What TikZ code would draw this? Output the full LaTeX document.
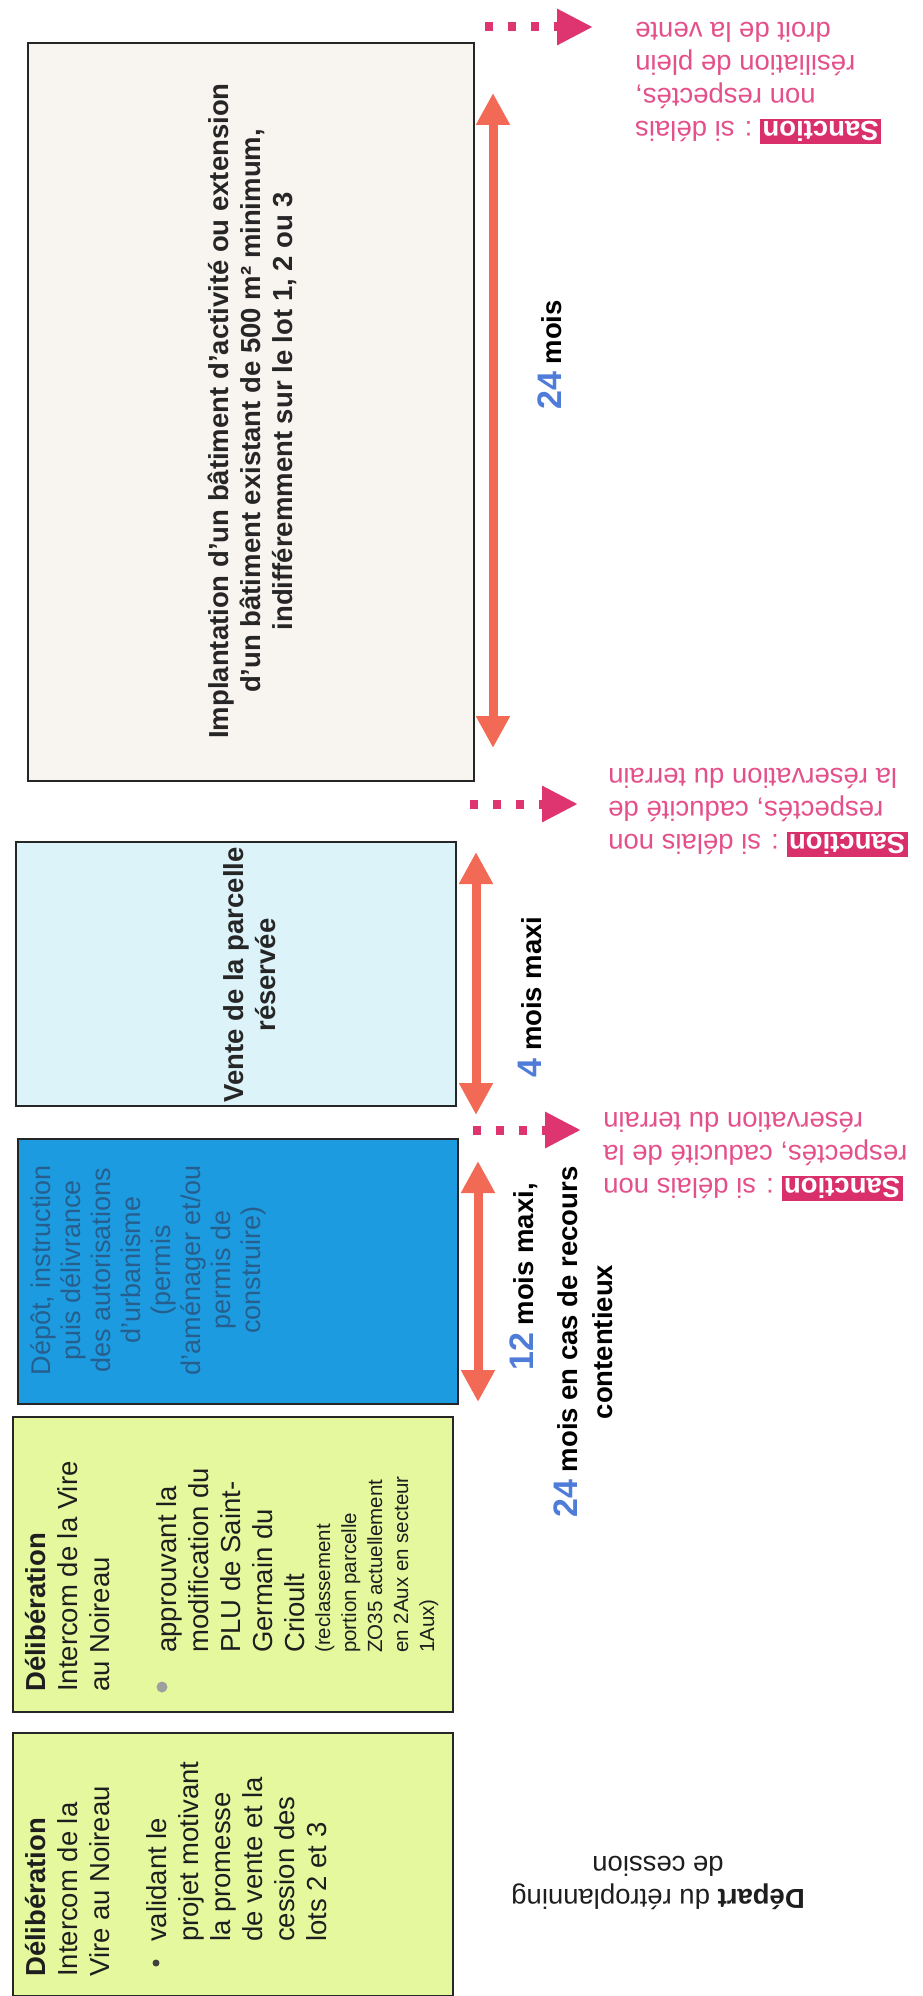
\documentclass[tikz,border=0pt]{standalone}
\usepackage{fontspec}
\setmainfont{Liberation Sans}
\usetikzlibrary{arrows.meta}
\definecolor{beigefill}{HTML}{F8F4F0}
\definecolor{lbluefill}{HTML}{DCF3FA}
\definecolor{bluefill}{HTML}{1C9BE0}
\definecolor{bluetext}{HTML}{265F8E}
\definecolor{greenfill}{HTML}{E6F89E}
\definecolor{durcol}{HTML}{F26A56}
\definecolor{sanccol}{HTML}{E4508A}
\definecolor{sancbg}{HTML}{D9306B}
\definecolor{dotcol}{HTML}{DE3470}
\definecolor{numcol}{HTML}{4F7BD9}
\definecolor{inkcol}{HTML}{1E1E1E}
\newcommand\bluenum[1]{{\color{numcol}\fontsize{34}{35}\selectfont #1}}
\newcommand\sancbadge{{\setlength\fboxsep{2.5pt}\colorbox{sancbg}{\textcolor{white}{\bfseries Sanction}}}}
\tikzset{
  boxstyle/.style={draw=black!85, line width=2.4pt, anchor=north west, inner sep=0pt},
  rtext/.style={rotate=90, inner sep=0pt, text=inkcol, font=\fontsize{27.5}{32}\selectfont},
  rbold/.style={rotate=90, inner sep=0pt, text=black!85, font=\bfseries\fontsize{27.5}{32}\selectfont},
  rsmall/.style={rotate=90, inner sep=0pt, text=inkcol, font=\fontsize{20.5}{26}\selectfont},
  rlab/.style={rotate=90, inner sep=0pt, text=black, font=\bfseries\fontsize{27.5}{35}\selectfont},
  stext/.style={rotate=180, inner sep=0pt, text=sanccol, align=right, font=\fontsize{27.5}{33}\selectfont},
  durarrow/.style={draw=durcol, line width=9pt, {Triangle[width=32pt,length=32pt]}-{Triangle[width=32pt,length=32pt]}},
  dotarrow/.style={draw=dotcol, line width=9pt, dash pattern=on 8pt off 15pt, -{Triangle[width=34pt,length=36pt]}},
  bulsmall/.style={circle, fill=black!75, minimum size=7pt, inner sep=0pt},
  bulbig/.style={circle, fill=gray!75, minimum size=11pt, inner sep=0pt}
}
\begin{document}
\begin{tikzpicture}[x=1pt,y=-1pt]
\useasboundingbox (0,0) rectangle (922,1996);
\fill[white] (0,0) rectangle (922,1996);

% boxes
\node[boxstyle, fill=beigefill, minimum width=446pt, minimum height=738pt] (box5) at (27,42) {};
\node[boxstyle, fill=lbluefill, minimum width=440pt, minimum height=264pt] (box4) at (15,841) {};
\node[boxstyle, fill=bluefill, minimum width=440pt, minimum height=265pt] (box3) at (17,1138) {};
\node[boxstyle, fill=greenfill, minimum width=440pt, minimum height=295pt] (box2) at (12,1416) {};
\node[boxstyle, fill=greenfill, minimum width=440pt, minimum height=263pt] (box1) at (12,1732) {};

% box texts
\node[rbold, align=center] (t5) at (252,411) {Implantation d’un bâtiment d’activité ou extension\\d’un bâtiment existant de 500 m² minimum,\\indifféremment sur le lot 1, 2 ou 3};
\node[rbold, align=center] (t4) at (250,975) {Vente de la parcelle\\réservée};
\node[rtext, align=center, text=bluetext, font=\fontsize{27}{30}\selectfont] (t3) at (148,1270) {Dépôt, instruction\\puis délivrance\\des autorisations\\d’urbanisme\\(permis\\d’aménager et/ou\\permis de\\construire)};

\node[rtext, anchor=north west, align=left] (h2) at (25,1692) {\textbf{Délibération}\\Intercom de la Vire\\au Noireau};
\node[bulbig] (bu2) at (162,1687) {};
\node[rtext, anchor=north west, align=left] (l2) at (156,1653) {approuvant la\\modification du\\PLU de Saint-\\Germain du\\Crioult};
\node[rsmall, anchor=north west, align=left] (s2) at (315,1653) {(reclassement\\portion parcelle\\ZO35 actuellement\\en 2Aux en secteur\\1Aux)};

\node[rtext, anchor=north west, align=left] (h1) at (25,1977) {\textbf{Délibération}\\Intercom de la\\Vire au Noireau};
\node[bulsmall] (bu1) at (156,1963) {};
\node[rtext, anchor=north west, align=left] (l1) at (146,1942) {validant le\\projet motivant\\la promesse\\de vente et la\\cession des\\lots 2 et 3};

% duration arrows
\coordinate (a5t) at (493,93);
\coordinate (a5b) at (493,748);
\coordinate (a4t) at (476,852);
\coordinate (a4b) at (476,1115);
\coordinate (a3t) at (478,1161);
\coordinate (a3b) at (478,1402);
\draw[durarrow] (a5t) -- (a5b);
\draw[durarrow] (a4t) -- (a4b);
\draw[durarrow] (a3t) -- (a3b);

% duration labels
\node[rlab] (d5) at (550,355) {\bluenum{24} mois};
\node[rlab] (d4) at (530,997) {\bluenum{4} mois maxi};
\node[rlab] (d3a) at (524,1277) {\bluenum{12} mois maxi,};
\node[rlab, align=center] (d3b) at (583,1342) {\bluenum{24} mois en cas de recours\\contentieux};

% dotted arrows
\coordinate (p1a) at (485,27);
\coordinate (p1b) at (593,27);
\coordinate (p2a) at (470,804);
\coordinate (p2b) at (578,804);
\coordinate (p3a) at (473,1130);
\coordinate (p3b) at (581,1130);
\draw[dotarrow] (p1a) -- (p1b);
\draw[dotarrow] (p2a) -- (p2b);
\draw[dotarrow] (p3a) -- (p3b);

% sanctions
\node[stext, anchor=north east] (sa1) at (635,144) {\sancbadge\ : si délais\\non respectés,\\résiliation de plein\\droit de la vente};
\node[stext, anchor=north east] (sa2) at (608,857) {\sancbadge\ : si délais non\\respectés, caducité de\\la réservation du terrain};
\node[stext, anchor=north east] (sa3) at (603,1201) {\sancbadge\ : si délais non\\respectés, caducité de la\\réservation du terrain};

% start label
\node[rotate=180, inner sep=0pt, align=center, text=inkcol, font=\fontsize{27.5}{33}\selectfont] (dep) at (658,1883) {\textbf{Départ} du rétroplanning\\de cession};
\end{tikzpicture}
\end{document}
